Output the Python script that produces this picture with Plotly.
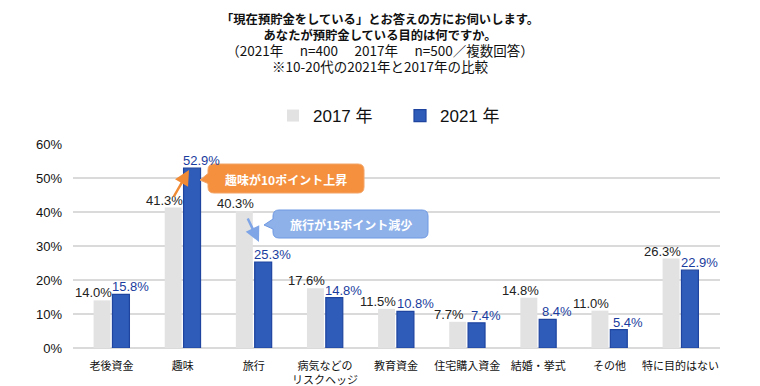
import plotly.graph_objects as go

categories = ["老後資金", "趣味", "旅行", "病気などの<br>リスクヘッジ", "教育資金",
              "住宅購入資金", "結婚・挙式", "その他", "特に目的はない"]
v2017 = [14.0, 41.3, 40.3, 17.6, 11.5, 7.7, 14.8, 11.0, 26.3]
v2021 = [15.8, 52.9, 25.3, 14.8, 10.8, 7.4, 8.4, 5.4, 22.9]
yticks = [0, 10, 20, 30, 40, 50, 60]
title_lines = ["<b>「現在預貯金をしている」とお答えの方にお伺いします。</b>",
               "<b>あなたが預貯金している目的は何ですか。</b>",
               "<span style='font-size:13.5px'>（2021年　 n=400　 2017年　 n=500／複数回答）</span>",
               "<span style='font-size:13.5px'>※10-20代の2021年と2017年の比較</span>"]

# page body has an 8px margin; the figure is drawn offset by it
OFF = 8
W, H = 760 - OFF, 386 - OFF
L, R, T, B = 73 - OFF, 40, 144 - OFF, 38
PW, PH = W - L - R, H - T - B

def X(px):  # screen px -> paper
    return (px - OFF - L) / PW

def Y(py):
    return (H - B - (py - OFF)) / PH

FONT = "Liberation Sans, Arial, Noto Sans CJK JP, sans-serif"
JFONT = "Noto Sans CJK JP, sans-serif"
GRAY = "#E2E2E2"
BLUE = "#2E5CB8"
BLUE_EDGE = "#1E44A0"
BLUE_TXT = "#1A3C9E"

fig = go.Figure()
fig.add_bar(name="2017 年", x=categories, y=v2017, marker=dict(color=GRAY, line=dict(width=0)))
fig.add_bar(name="2021 年", x=categories, y=v2021, marker=dict(color=BLUE, line=dict(color=BLUE_EDGE, width=1.2)))

for c, a, b in zip(categories, v2017, v2021):
    fig.add_annotation(x=c, y=a, text=f"{a:.1f}%", showarrow=False, xshift=-18, yshift=-2,
                       xanchor="center", yanchor="bottom",
                       font=dict(family=FONT, size=13, color="#222222"))
    fig.add_annotation(x=c, y=b, text=f"{b:.1f}%", showarrow=False, xshift=19, yshift=-2,
                       xanchor="center", yanchor="bottom",
                       font=dict(family=FONT, size=13, color=BLUE_TXT))

# title block
fig.add_annotation(xref="paper", yref="paper", x=X(380), y=Y(8), text="<br>".join(title_lines),
                   showarrow=False, xanchor="center", yanchor="top", align="center",
                   font=dict(family=JFONT, size=12.3, color="#111111"))

def callout(x0, y0, x1, y1, tipx, tipy, r=6):
    my = (y0 + y1) / 2
    p = f"M {X(x0 + r)},{Y(y0)} L {X(x1 - r)},{Y(y0)} Q {X(x1)},{Y(y0)} {X(x1)},{Y(y0 + r)} "
    p += f"L {X(x1)},{Y(y1 - r)} Q {X(x1)},{Y(y1)} {X(x1 - r)},{Y(y1)} "
    p += f"L {X(x0 + r)},{Y(y1)} Q {X(x0)},{Y(y1)} {X(x0)},{Y(y1 - r)} "
    p += f"L {X(x0)},{Y(my + 5)} L {X(tipx)},{Y(tipy)} L {X(x0)},{Y(my - 5)} "
    p += f"L {X(x0)},{Y(y0 + r)} Q {X(x0)},{Y(y0)} {X(x0 + r)},{Y(y0)} Z"
    return p

fig.add_shape(type="path", xref="paper", yref="paper", path=callout(208, 164, 364, 193, 200, 180),
              fillcolor="#F5903E", line=dict(color="#F2A466", width=1))
fig.add_shape(type="path", xref="paper", yref="paper", path=callout(273, 210, 428, 238, 264, 225),
              fillcolor="#8EB1EA", line=dict(color="#6E98E2", width=1))
fig.add_annotation(xref="paper", yref="paper", x=X(286), y=Y(179), text="<b>趣味が10ポイント上昇</b>",
                   showarrow=False, xanchor="center", yanchor="middle",
                   font=dict(family=JFONT, size=12, color="white"))
fig.add_annotation(xref="paper", yref="paper", x=X(351), y=Y(224), text="<b>旅行が15ポイント減少</b>",
                   showarrow=False, xanchor="center", yanchor="middle",
                   font=dict(family=JFONT, size=12, color="white"))

# arrows (tail offsets in pixels)
fig.add_annotation(xref="paper", yref="paper", x=X(189), y=Y(170), ax=-16, ay=28,
                   axref="pixel", ayref="pixel", text="", showarrow=True, arrowhead=2,
                   arrowsize=1.2, arrowwidth=2.5, arrowcolor="#F08A35")
fig.add_annotation(xref="paper", yref="paper", x=X(259), y=Y(242), ax=-12, ay=-25,
                   axref="pixel", ayref="pixel", text="", showarrow=True, arrowhead=2,
                   arrowsize=1.2, arrowwidth=2.5, arrowcolor="#7FA5E6")

fig.update_layout(
    width=W, height=H, margin=dict(l=L, r=R, t=T, b=B, autoexpand=False),
    paper_bgcolor="white", plot_bgcolor="white",
    barmode="group", bargap=0.47, bargroupgap=0.1,
    showlegend=True,
    legend=dict(orientation="h", x=X(273), xanchor="left", y=Y(116), yanchor="middle",
                font=dict(family=FONT, size=17, color="#111111"),
                entrywidth=82, entrywidthmode="pixels", traceorder="normal"),
    font=dict(family=FONT),
)
fig.update_xaxes(showgrid=False, showline=False, ticks="", zeroline=False,
                 tickfont=dict(family=JFONT, size=11, color="#111111"), ticklabelstandoff=10)
fig.update_yaxes(range=[0, 60], tickvals=yticks, ticktext=[f"{v}%" for v in yticks],
                 showgrid=True, gridcolor="#DADADA", gridwidth=1.5, zeroline=True,
                 zerolinecolor="#DADADA", zerolinewidth=1.5, showline=False, ticks="",
                 tickfont=dict(family=FONT, size=13, color="#111111"), ticklabelstandoff=10)

fig.write_html("out.html")
